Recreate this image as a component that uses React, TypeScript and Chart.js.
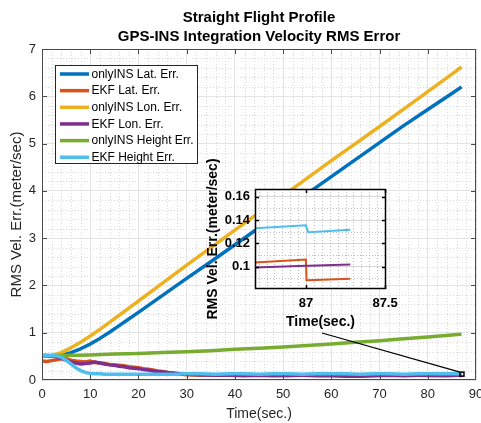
import React, { useEffect, useRef } from 'react';
import { Chart, registerables } from 'chart.js';

Chart.register(...registerables);

const FONT = "'Liberation Sans', Arial, Helvetica, sans-serif";
const AXIS = '#262626';

// ---------------- data ----------------
const seriesLabels = [
  'onlyINS Lat. Err.',
  'EKF Lat. Err.',
  'onlyINS Lon. Err.',
  'EKF Lon. Err.',
  'onlyINS Height Err.',
  'EKF Height Err.',
];
const seriesColors = ['#0072BD', '#D95319', '#EDB120', '#7E2F8E', '#77AC30', '#4DBEEE'];

const insTime = [0, 2, 4, 6, 8, 10, 12, 14, 16, 18, 20, 25, 30, 35, 40, 45, 50, 55, 60, 65, 70, 75, 80, 85, 87];
const onlyInsLat = [0.5, 0.5, 0.52, 0.58, 0.66, 0.76, 0.88, 1.01, 1.15, 1.29, 1.43, 1.79, 2.15, 2.5, 2.86, 3.22, 3.58, 3.94, 4.3, 4.66, 5.02, 5.38, 5.72, 6.06, 6.2];
const onlyInsLon = [0.5, 0.52, 0.58, 0.68, 0.8, 0.93, 1.07, 1.22, 1.37, 1.52, 1.67, 2.05, 2.43, 2.8, 3.17, 3.54, 3.9, 4.27, 4.64, 5.0, 5.36, 5.73, 6.1, 6.47, 6.62];

const heightTime = [0, 5, 10, 15, 20, 25, 30, 35, 40, 45, 50, 55, 60, 65, 70, 75, 80, 85, 87];
const onlyInsHeight = [0.52, 0.52, 0.53, 0.55, 0.56, 0.58, 0.6, 0.62, 0.65, 0.67, 0.7, 0.73, 0.76, 0.8, 0.83, 0.87, 0.91, 0.95, 0.97];

const ekfTime = [
  0, 1, 2, 3, 4, 5, 6, 7, 8, 9, 10, 11, 12, 13, 14, 15, 16, 17, 18, 19, 20, 21, 22, 23, 24, 25, 26, 27, 28, 29, 30,
  33, 36, 39, 42, 45, 48, 51, 54, 57, 60, 63, 66, 69, 72, 75, 78, 81, 84, 86, 87,
];
const ekfLat = [
  0.4, 0.39, 0.41, 0.43, 0.45, 0.45, 0.42, 0.4, 0.39, 0.38, 0.4, 0.37, 0.36, 0.35, 0.33, 0.32, 0.31, 0.3, 0.28, 0.27, 0.26,
  0.24, 0.23, 0.21, 0.19, 0.18, 0.16, 0.15, 0.13, 0.12, 0.11,
  0.1, 0.11, 0.1, 0.1, 0.11, 0.1, 0.09, 0.1, 0.11, 0.1, 0.1, 0.09, 0.1, 0.11, 0.1, 0.1, 0.09, 0.1, 0.105, 0.09,
];
const ekfLon = [
  0.52, 0.52, 0.51, 0.49, 0.46, 0.42, 0.38, 0.36, 0.34, 0.35, 0.36, 0.38, 0.36, 0.34, 0.32, 0.31, 0.29, 0.28, 0.26, 0.25, 0.24,
  0.22, 0.21, 0.19, 0.18, 0.17, 0.16, 0.15, 0.14, 0.13, 0.12,
  0.11, 0.1, 0.1, 0.09, 0.1, 0.09, 0.1, 0.1, 0.09, 0.09, 0.08, 0.08, 0.09, 0.1, 0.09, 0.1, 0.1, 0.09, 0.1, 0.101,
];
const ekfHeight = [
  0.52, 0.52, 0.52, 0.51, 0.48, 0.42, 0.34, 0.26, 0.2, 0.16, 0.14, 0.13, 0.13, 0.12, 0.12, 0.12, 0.12, 0.12, 0.12, 0.12, 0.12,
  0.12, 0.12, 0.12, 0.12, 0.12, 0.12, 0.12, 0.12, 0.13, 0.13,
  0.13, 0.12, 0.13, 0.13, 0.12, 0.13, 0.13, 0.12, 0.13, 0.13, 0.13, 0.12, 0.13, 0.13, 0.12, 0.13, 0.13, 0.13, 0.135, 0.13,
];

// inset (zoom on t = 87 s)
const insetTime = [86.677, 86.999, 87.003, 87.015, 87.28];
const insetLat = [0.1037, 0.1063, 0.0885, 0.0885, 0.0897];
const insetLon = [0.0994, 0.1008, 0.1008, 0.1009, 0.102];
const insetHeight = [0.1329, 0.1356, 0.1335, 0.1296, 0.1318];

const insetXTicks = [87, 87.5];
const insetYTicks = [0.1, 0.12, 0.14, 0.16];
const insetRange = { xMin: 86.677, xMax: 87.506, yMin: 0.081, yMax: 0.1666 };
const calloutFrom = { x: 58.07, y: 0.994 };

const titleLines = ['Straight Flight Profile', 'GPS-INS Integration Velocity RMS Error'];

// ---------------- helpers ----------------
const pts = (xs: number[], ys: number[]) => xs.map((x, i) => ({ x, y: ys[i] }));

function range(min: number, max: number, step: number) {
  const out: number[] = [];
  const n = Math.round((max - min) / step);
  for (let i = 0; i <= n; i++) out.push(+(min + i * step).toFixed(6));
  return out;
}

function makeDecor(o: {
  majorX: number[]; majorY: number[]; minorX: number[]; minorY: number[];
  minorColor: string; box: string; boxWidth: number; tick: number; fill: boolean;
}) {
  return {
    id: 'decor',
    beforeDraw(chart: any) {
      if (!o.fill) return;
      const { ctx, chartArea: a } = chart;
      ctx.save();
      ctx.fillStyle = '#ffffff';
      ctx.fillRect(a.left, a.top, a.right - a.left, a.bottom - a.top);
      ctx.restore();
    },
    beforeDatasetsDraw(chart: any) {
      const { ctx, chartArea: a, scales } = chart;
      const x = scales.x, y = scales.y;
      ctx.save();
      ctx.strokeStyle = o.minorColor;
      ctx.lineWidth = 1;
      ctx.setLineDash([1, 2]);
      ctx.beginPath();
      for (const v of o.minorX) {
        if (o.majorX.some((m) => Math.abs(m - v) < 1e-6)) continue;
        const px = Math.round(x.getPixelForValue(v)) + 0.5;
        if (px <= a.left || px >= a.right) continue;
        ctx.moveTo(px, a.top);
        ctx.lineTo(px, a.bottom);
      }
      for (const v of o.minorY) {
        if (o.majorY.some((m) => Math.abs(m - v) < 1e-6)) continue;
        const py = Math.round(y.getPixelForValue(v)) + 0.5;
        if (py <= a.top || py >= a.bottom) continue;
        ctx.moveTo(a.left, py);
        ctx.lineTo(a.right, py);
      }
      ctx.stroke();
      ctx.restore();
    },
    afterDatasetsDraw(chart: any) {
      const { ctx, chartArea: a, scales } = chart;
      const x = scales.x, y = scales.y;
      ctx.save();
      ctx.strokeStyle = o.box;
      ctx.lineWidth = o.boxWidth;
      ctx.beginPath();
      for (const v of o.majorX) {
        const px = Math.round(x.getPixelForValue(v)) + 0.5;
        if (px < a.left || px > a.right) continue;
        ctx.moveTo(px, a.bottom);
        ctx.lineTo(px, a.bottom - o.tick);
        ctx.moveTo(px, a.top);
        ctx.lineTo(px, a.top + o.tick);
      }
      for (const v of o.majorY) {
        const py = Math.round(y.getPixelForValue(v)) + 0.5;
        if (py < a.top || py > a.bottom) continue;
        ctx.moveTo(a.left, py);
        ctx.lineTo(a.left + o.tick, py);
        ctx.moveTo(a.right, py);
        ctx.lineTo(a.right - o.tick, py);
      }
      ctx.stroke();
      const l = Math.round(a.left) + 0.5, t = Math.round(a.top) + 0.5;
      const r = Math.round(a.right) - 0.5, b = Math.round(a.bottom) - 0.5;
      ctx.strokeRect(l, t, r - l, b - t);
      ctx.restore();
    },
  };
}

const mainExtras = {
  id: 'mainExtras',
  afterDatasetsDraw(chart: any) {
    const { ctx, chartArea: a, scales } = chart;
    const x = scales.x, y = scales.y;
    ctx.save();
    // zoom rectangle and callout line
    const rx0 = x.getPixelForValue(insetRange.xMin), rx1 = x.getPixelForValue(insetRange.xMax);
    const ry0 = y.getPixelForValue(insetRange.yMax), ry1 = y.getPixelForValue(insetRange.yMin);
    ctx.strokeStyle = '#000';
    ctx.lineWidth = 1.2;
    ctx.beginPath();
    ctx.moveTo(x.getPixelForValue(calloutFrom.x), y.getPixelForValue(calloutFrom.y));
    ctx.lineTo(rx0, ry0);
    ctx.stroke();
    ctx.lineWidth = 1.5;
    ctx.strokeRect(rx0, ry0, rx1 - rx0, ry1 - ry0);

    // legend
    const lx = 55.5, ly = 65.5, lw = 142, lh = 98;
    ctx.fillStyle = '#fff';
    ctx.fillRect(lx, ly, lw, lh);
    ctx.strokeStyle = AXIS;
    ctx.lineWidth = 1;
    ctx.strokeRect(lx, ly, lw, lh);
    ctx.font = `12px ${FONT}`;
    ctx.textAlign = 'left';
    ctx.textBaseline = 'middle';
    seriesLabels.forEach((lab, i) => {
      const cy = 74 + i * 16.65;
      ctx.strokeStyle = seriesColors[i];
      ctx.lineWidth = 3.5;
      ctx.beginPath();
      ctx.moveTo(60, cy);
      ctx.lineTo(89, cy);
      ctx.stroke();
      ctx.fillStyle = '#000';
      ctx.fillText(lab, 91.5, cy + 0.5);
    });

    // title
    ctx.fillStyle = '#000';
    ctx.font = `bold 15px ${FONT}`;
    ctx.textAlign = 'center';
    const cx = (a.left + a.right) / 2;
    ctx.fillText(titleLines[0], cx, 18);
    ctx.fillText(titleLines[1], cx, 37);
    ctx.restore();
  },
};

export default function App() {
  const mainRef = useRef<HTMLCanvasElement>(null);
  const insetRef = useRef<HTMLCanvasElement>(null);

  useEffect(() => {
    document.body.style.margin = '0';
    const mainData = [
      pts(insTime, onlyInsLat),
      pts(ekfTime, ekfLat),
      pts(insTime, onlyInsLon),
      pts(ekfTime, ekfLon),
      pts(heightTime, onlyInsHeight),
      pts(ekfTime, ekfHeight),
    ];
    const main = new Chart(mainRef.current!, {
      type: 'line',
      data: {
        datasets: mainData.map((d, i) => ({
          label: seriesLabels[i],
          data: d,
          borderColor: seriesColors[i],
          backgroundColor: seriesColors[i],
          borderWidth: 3.5,
          pointRadius: 0,
          tension: 0,
          borderJoinStyle: 'round' as const,
          order: 5 - i,
        })),
      },
      options: {
        animation: false,
        responsive: false,
        devicePixelRatio: 1,
        events: [],
        layout: { padding: { left: 0, right: 5, top: 49, bottom: 0 } },
        plugins: { legend: { display: false }, tooltip: { enabled: false }, title: { display: false } },
        scales: {
          x: {
            type: 'linear',
            min: 0,
            max: 90,
            ticks: { stepSize: 10, font: { size: 13, family: FONT }, color: AXIS, padding: 7, maxRotation: 0, autoSkip: false },
            grid: { color: '#e4e4e4', lineWidth: 1, drawTicks: false },
            border: { display: false },
            title: { display: true, text: 'Time(sec.)', font: { size: 14, family: FONT }, color: AXIS, padding: { top: 0, bottom: 0 } },
            afterFit: (s: any) => { s.height = 43; s.paddingLeft = 0; s.paddingRight = 0; },
          },
          y: {
            type: 'linear',
            min: 0,
            max: 7,
            ticks: { stepSize: 1, font: { size: 13, family: FONT }, color: AXIS, padding: 6 },
            grid: { color: '#e4e4e4', lineWidth: 1, drawTicks: false },
            border: { display: false },
            title: { display: true, text: 'RMS Vel. Err.(meter/sec)', font: { size: 15, family: FONT }, color: AXIS, padding: { top: 8, bottom: 0 } },
            afterFit: (s: any) => { s.width = 42; s.paddingTop = 0; s.paddingBottom = 0; },
          },
        },
      } as any,
      plugins: [
        makeDecor({
          majorX: range(0, 90, 10), majorY: range(0, 7, 1),
          minorX: range(0, 90, 2), minorY: range(0, 7, 0.2),
          minorColor: '#dadada', box: '#4a4a4a', boxWidth: 1, tick: 5, fill: false,
        }),
        mainExtras,
      ],
    });

    const insetData = [pts(insetTime, insetLat), pts(insetTime, insetLon), pts(insetTime, insetHeight)];
    const insetColors = [seriesColors[1], seriesColors[3], seriesColors[5]];
    const inset = new Chart(insetRef.current!, {
      type: 'line',
      data: {
        datasets: insetData.map((d, i) => ({
          data: d,
          borderColor: insetColors[i],
          borderWidth: 2,
          pointRadius: 0,
          tension: 0,
          order: 2 - i,
        })),
      },
      options: {
        animation: false,
        responsive: false,
        devicePixelRatio: 1,
        events: [],
        layout: { padding: { left: 0, right: 39, top: 39, bottom: 0 } },
        plugins: { legend: { display: false }, tooltip: { enabled: false } },
        scales: {
          x: {
            type: 'linear',
            min: insetRange.xMin,
            max: insetRange.xMax,
            afterBuildTicks: (s: any) => { s.ticks = insetXTicks.map((v) => ({ value: v })); },
            ticks: { callback: (v: any) => String(v), font: { size: 13, weight: 'bold', family: FONT }, color: '#000', padding: 7, maxRotation: 0, autoSkip: false },
            grid: { color: '#d6d6d6', lineWidth: 1, drawTicks: false },
            border: { display: false },
            title: { display: true, text: 'Time(sec.)', font: { size: 14, weight: 'bold', family: FONT }, color: '#000', padding: { top: 0, bottom: 4 } },
            afterFit: (s: any) => { s.height = 46; s.paddingLeft = 0; s.paddingRight = 0; },
          },
          y: {
            type: 'linear',
            min: insetRange.yMin,
            max: insetRange.yMax,
            afterBuildTicks: (s: any) => { s.ticks = insetYTicks.map((v) => ({ value: v })); },
            ticks: { callback: (v: any) => String(v), font: { size: 13, weight: 'bold', family: FONT }, color: '#000', padding: 5, autoSkip: false },
            grid: { color: '#d6d6d6', lineWidth: 1, drawTicks: false },
            border: { display: false },
            title: { display: true, text: 'RMS Vel. Err.(meter/sec)', font: { size: 14, weight: 'bold', family: FONT }, color: '#000', padding: { top: 9.6, bottom: 0 } },
            afterFit: (s: any) => { s.width = 60; s.paddingTop = 0; s.paddingBottom = 0; },
          },
        },
      } as any,
      plugins: [
        makeDecor({
          majorX: insetXTicks, majorY: insetYTicks,
          minorX: range(86.65, 87.5, 0.05), minorY: range(0.08, 0.17, 0.01),
          minorColor: '#bdbdbd', box: '#000', boxWidth: 1.5, tick: 4, fill: true,
        }),
      ],
    });

    return () => {
      main.destroy();
      inset.destroy();
    };
  }, []);

  return (
    <div style={{ position: 'relative', width: 481, height: 423, background: '#fff', overflow: 'hidden' }}>
      <canvas ref={mainRef} width={481} height={423} style={{ position: 'absolute', left: 0, top: 0 }} />
      <canvas ref={insetRef} width={230} height={185} style={{ position: 'absolute', left: 195, top: 150 }} />
    </div>
  );
}
